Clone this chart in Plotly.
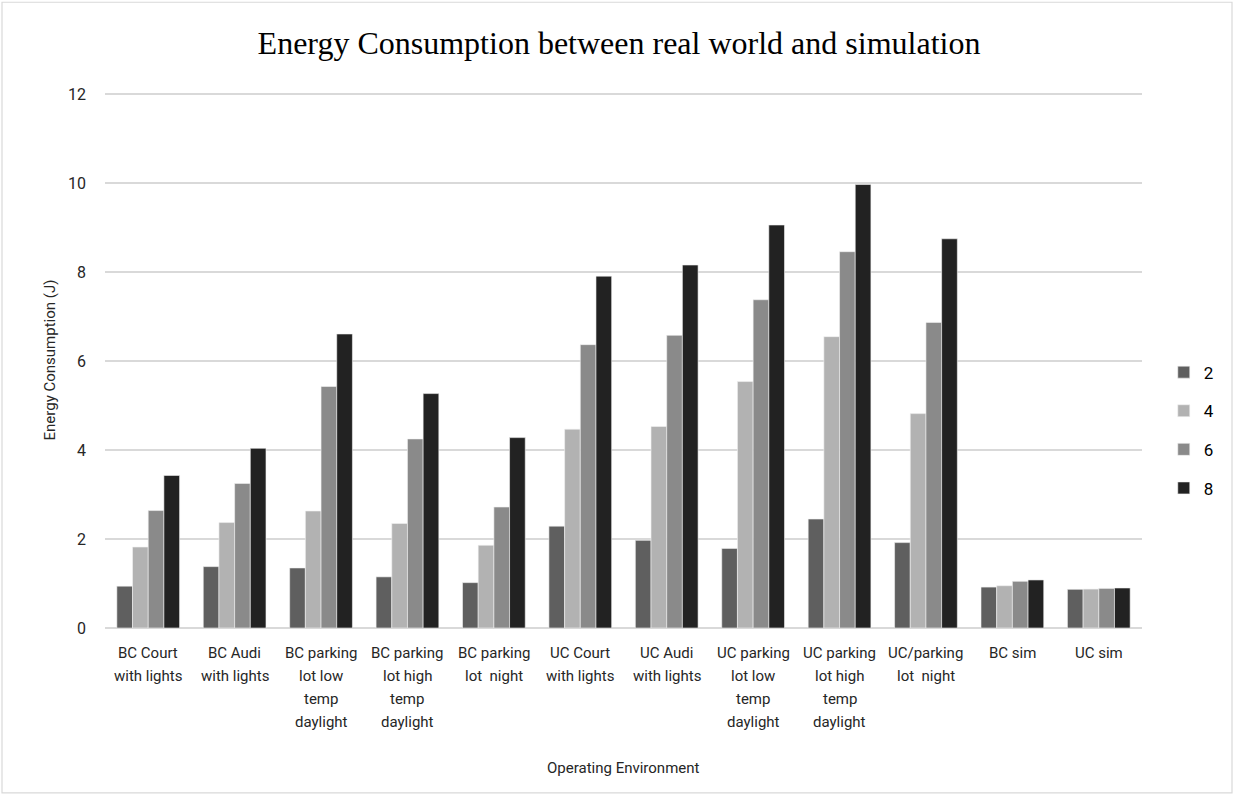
import plotly.graph_objects as go

# Operating environments (x categories); "\n" marks a line break in the label
environments = [
    "BC Court\nwith lights",
    "BC Audi\nwith lights",
    "BC parking\nlot low\ntemp\ndaylight",
    "BC parking\nlot high\ntemp\ndaylight",
    "BC parking\nlot  night",
    "UC Court\nwith lights",
    "UC Audi\nwith lights",
    "UC parking\nlot low\ntemp\ndaylight",
    "UC parking\nlot high\ntemp\ndaylight",
    "UC/parking\nlot  night",
    "BC sim",
    "UC sim",
]

series_names = ["2", "4", "6", "8"]

values_2 = [0.94, 1.38, 1.35, 1.15, 1.02, 2.29, 1.97, 1.79, 2.45, 1.92, 0.92, 0.87]
values_4 = [1.82, 2.37, 2.63, 2.35, 1.86, 4.47, 4.53, 5.54, 6.55, 4.82, 0.95, 0.875]
values_6 = [2.64, 3.25, 5.43, 4.25, 2.72, 6.37, 6.58, 7.38, 8.46, 6.87, 1.05, 0.89]
values_8 = [3.43, 4.04, 6.61, 5.27, 4.28, 7.91, 8.16, 9.06, 9.97, 8.75, 1.08, 0.90]

y_ticks = [0, 2, 4, 6, 8, 10, 12]

series_values = [values_2, values_4, values_6, values_8]
series_colors = ["#5f5f5f", "#b2b2b2", "#8a8a8a", "#222222"]

SANS = "Liberation Sans Narrow, Arial Narrow, Roboto, sans-serif"

Y_MAX = 12.05
PLOT_BOTTOM = 628           # pixel row of the zero line
PX_PER_UNIT = 534 / 12      # vertical scale
plot_h = PX_PER_UNIT * Y_MAX
top_margin = PLOT_BOTTOM - plot_h

fig = go.Figure()
for name, vals, color in zip(series_names, series_values, series_colors):
    fig.add_trace(go.Bar(
        name=name,
        x=environments,
        y=vals,
        marker=dict(color=color, line=dict(color="#f2f2f2", width=0.6)),
        legendgroup=name,
    ))

# Category labels drawn line by line for Excel-like line spacing
annotations = []
for cat in environments:
    for i, line in enumerate(cat.split("\n")):
        annotations.append(dict(
            x=cat, y=0, xref="x", yref="paper",
            text=line.replace("  ", "&nbsp;&nbsp;"),
            showarrow=False, xanchor="center", yanchor="top",
            yshift=-14 - 23 * i,
            font=dict(family=SANS, size=15, color="#262626"),
        ))

annotations.append(dict(
    x=0.5, y=0, xref="paper", yref="paper",
    text="Operating Environment", showarrow=False,
    xanchor="center", yanchor="middle", yshift=-140,
    font=dict(family=SANS, size=15, color="#262626"),
))

fig.update_layout(
    width=1234, height=794,
    margin=dict(l=105, r=92, t=top_margin, b=794 - PLOT_BOTTOM, autoexpand=False),
    paper_bgcolor="white", plot_bgcolor="white",
    title=dict(
        text="Energy Consumption between real world and simulation",
        x=619 / 1234, xref="container", xanchor="center",
        y=1 - 43 / 794, yref="container", yanchor="middle",
        font=dict(family="Liberation Serif, Times New Roman, serif", size=32, color="#000000"),
    ),
    barmode="group",
    bargap=0.274,
    bargroupgap=0,
    showlegend=True,
    legend=dict(
        x=1.021, y=(PLOT_BOTTOM - 430) / plot_h, xanchor="left", yanchor="middle",
        font=dict(family=SANS, size=17, color="#000000"),
        tracegroupgap=13.5,
        itemwidth=30,
        bgcolor="rgba(0,0,0,0)",
    ),
    xaxis=dict(
        showticklabels=False,
        showgrid=False,
        showline=False,
        zeroline=False,
        ticks="",
    ),
    yaxis=dict(
        range=[0, Y_MAX],
        tickvals=y_ticks,
        ticktext=[str(v) for v in y_ticks],
        showgrid=True,
        gridcolor="#d9d9d9",
        gridwidth=1.5,
        zeroline=True,
        zerolinecolor="#d9d9d9",
        zerolinewidth=1.5,
        showline=False,
        ticks="",
        ticklabelstandoff=18,
        tickfont=dict(family=SANS, size=16, color="#262626"),
        title=dict(
            text="Energy Consumption (J)",
            font=dict(family=SANS, size=15, color="#262626"),
            standoff=8,
        ),
    ),
    annotations=annotations,
    shapes=[dict(
        type="rect", xref="paper", yref="paper",
        x0=(2 - 105) / 1037, x1=(1232 - 105) / 1037,
        y0=(PLOT_BOTTOM - 793) / plot_h, y1=(PLOT_BOTTOM - 2) / plot_h,
        line=dict(color="#d9d9d9", width=1.2),
        fillcolor="rgba(0,0,0,0)",
        layer="below",
    )],
)

fig.write_html("out.html")
